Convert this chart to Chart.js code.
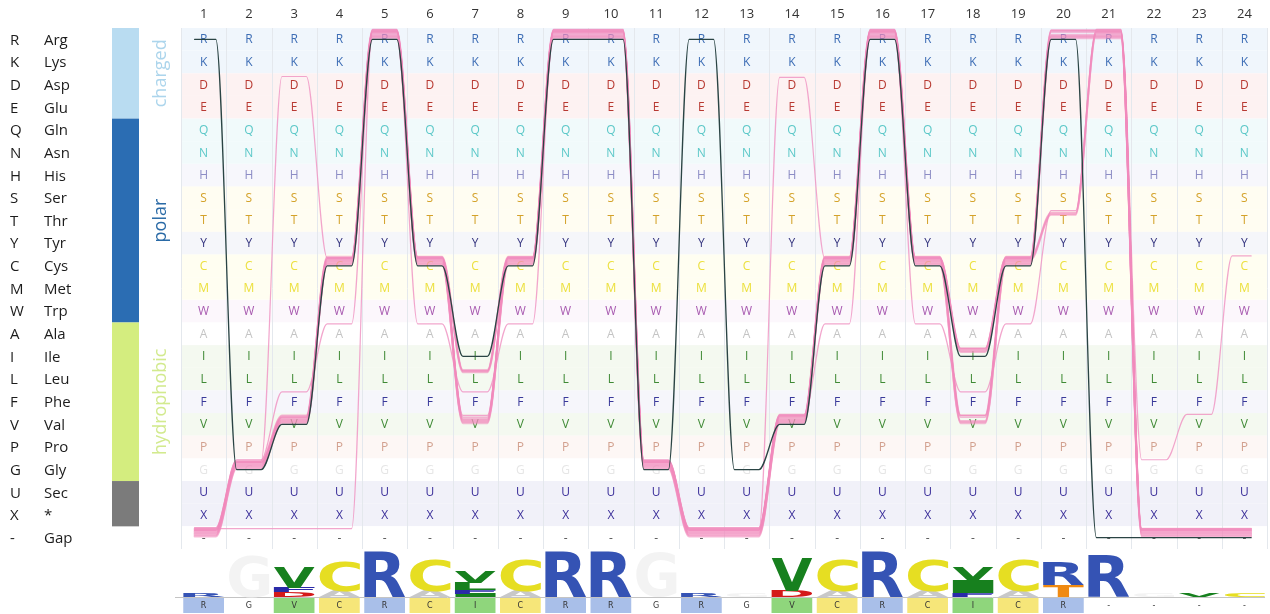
<!DOCTYPE html>
<html>
<head>
<meta charset="utf-8">
<script src="https://cdn.jsdelivr.net/npm/chart.js@4.4.1/dist/chart.umd.min.js"></script>
<style>
  html, body { margin: 0; background: #fff; }
  canvas { display: block; }
</style>
</head>
<body>
<canvas id="bundles" width="1270" height="614"></canvas>
<script>
// ---------- DATA ----------
const residues = ["R","K","D","E","Q","N","H","S","T","Y","C","M","W","A","I","L","F","V","P","G","U","X","-"];
const residueNames = ["Arg","Lys","Asp","Glu","Gln","Asn","His","Ser","Thr","Tyr","Cys","Met","Trp","Ala","Ile","Leu","Phe","Val","Pro","Gly","Sec","*","Gap"];
const positions = [1,2,3,4,5,6,7,8,9,10,11,12,13,14,15,16,17,18,19,20,21,22,23,24];

const groupNames = ["charged", "polar", "hydrophobic", "special"];
const groupFirst = ["R", "Q", "A", "U"];
const groupLast  = ["E", "W", "G", "X"];

// reference sequence (dark line, also the boxes under the logo)
const refSeq = "RGVCRCICRRGRGVCRCICR----";

// aligned sequences of the pink bundle
const bundleSeqs = [
  "-GVCRCVCRRG--VCRCVCRR---",
  "-GVCRCVCRRG--VCRCVCRR---",
  "-GVCRCVCRRG--VCRCVCRR---",
  "-GVCRCVCRRG--VCRCICRR---",
  "-GVCRCVCRRG--VCRCICTR---",
  "-GVCRCLCRRG--VCRCICTR---",
  "-GVCRCLCRRG--VCRCICTR---",
  "-GVCRCLCRRG--VCRCVCRR---",
  "----RCVCRRG--VCRCVCRR---",
  "-GDCRCLCRRG--VCRCICRR---",
  "-GFARAFARRG--VARAFATRGVC",
  "-GVCRCVCRRG--DCRCVCRR---"
];

// ---------- STYLE ----------
const letterColor = {
  R:"#3d6db5", K:"#3d6db5", D:"#b83a32", E:"#b83a32", Q:"#5cc8c8", N:"#5cc8c8",
  H:"#8d8dc5", S:"#d4a22a", T:"#d4a22a", Y:"#34347e", C:"#ece03e", M:"#ece03e",
  W:"#a85ab0", A:"#c4c4c4", I:"#3f8a35", L:"#3f8a35", F:"#39399a", V:"#3f8a35",
  P:"#d2a08e", G:"#e6e6e6", U:"#3b2f9a", X:"#3b2f9a", "-":"#555"
};
const rowBg = {
  R:"#f0f6fc", K:"#f0f6fc", D:"#fdf2f2", E:"#fdf2f2", Q:"#f1fafb", N:"#f1fafb",
  H:"#f7f7fc", S:"#fffdf2", T:"#fffdf2", Y:"#f5f6fa", C:"#fffef1", M:"#fffef1",
  W:"#fcf7fc", A:"#ffffff", I:"#f4f9f0", L:"#f4f9f0", F:"#f6f6fb", V:"#f4f9f0",
  P:"#fdf7f5", G:"#ffffff", U:"#f1f1f9", X:"#f1f1f9", "-":"#ffffff"
};
const logoColor = {
  R:"#3553b4", K:"#3553b4", C:"#e6de22", V:"#17801e", I:"#17801e", L:"#17801e",
  G:"#f3f3f3", D:"#d41a1a", E:"#d41a1a", T:"#f08a12", S:"#f08a12", F:"#2a2aa8", A:"#c8c8c8"
};
const boxColor = { R:"#a9bfe9", K:"#a9bfe9", V:"#8fd67c", I:"#8fd67c", L:"#8fd67c", C:"#f6e679" };
const groupBar = ["#b9dcf1", "#2b6db3", "#d4ed7f", "#7b7b7b"];
const groupText = ["#acd5ec", "#2a6aa6", "#d2ea8e", null];

const FONT = "'Open Sans', 'Noto Sans', sans-serif";
const HALF = 0.27;       // plateau half width, in columns
const PX_PER_BIT = 10.4;
const PSEUDO = 1.5;      // small-sample pseudo count for the logo
const LOGO_BASE = 597;

// ---------- HELPERS ----------
const rowOf = c => residues.indexOf(c);

function bundlePoints(seq, off) {
  const pts = [];
  for (let j = 0; j < seq.length; j++) {
    const y = rowOf(seq[j]) + off;
    pts.push({ x: positions[j] - (j === 0 ? 0.2 : HALF), y });
    pts.push({ x: positions[j] + (j === seq.length - 1 ? 0.15 : HALF), y });
  }
  return pts;
}

const allSeqs = [refSeq, ...bundleSeqs];

function logoColumn(j) {
  const counts = {};
  let n = 0;
  allSeqs.forEach(s => {
    const c = s[j];
    if (c !== "-") { counts[c] = (counts[c] || 0) + 1; n++; }
  });
  if (!n) return [];
  const keys = Object.keys(counts);
  const tot = n + PSEUDO * keys.length;
  let H = 0;
  keys.forEach(c => { const p = (counts[c] + PSEUDO) / tot; H -= p * Math.log2(p); });
  const ic = (Math.log2(20) - H) * n / allSeqs.length;
  return keys
    .map(c => ({ c, bits: ic * (counts[c] + PSEUDO) / tot, k: counts[c] }))
    .sort((a, b) => a.k - b.k);
}

function drawGlyph(ctx, ch, x, yTop, w, h, color) {
  if (h < 0.6) return;
  ctx.save();
  ctx.font = "bold 100px 'DejaVu Sans', sans-serif";
  ctx.textAlign = "left";
  ctx.textBaseline = "alphabetic";
  const m = ctx.measureText(ch);
  const gw = m.actualBoundingBoxLeft + m.actualBoundingBoxRight;
  const gh = m.actualBoundingBoxAscent + m.actualBoundingBoxDescent;
  ctx.translate(x, yTop);
  ctx.scale(w / gw, h / gh);
  ctx.fillStyle = color;
  ctx.fillText(ch, m.actualBoundingBoxLeft, m.actualBoundingBoxAscent);
  ctx.restore();
}

// ---------- PLUGIN: grid, letters, legend, logo ----------
const decor = {
  id: "decor",
  beforeDatasetsDraw(chart) {
    const { ctx, chartArea: a, scales: { x, y } } = chart;
    const colW = x.getPixelForValue(2) - x.getPixelForValue(1);
    ctx.save();

    // row bands
    residues.forEach((r, i) => {
      const t = y.getPixelForValue(i - 0.5), b = y.getPixelForValue(i + 0.5);
      ctx.fillStyle = rowBg[r];
      ctx.fillRect(a.left, t, a.right - a.left, b - t);
    });

    // column separators
    ctx.strokeStyle = "#e4e8ed";
    ctx.lineWidth = 1;
    for (let i = 0; i <= positions.length; i++) {
      const px = Math.round(x.getPixelForValue(i + 0.5)) + 0.5;
      ctx.beginPath(); ctx.moveTo(px, a.top); ctx.lineTo(px, a.bottom); ctx.stroke();
    }

    // cell letters
    ctx.font = "12px " + FONT;
    ctx.textAlign = "center";
    ctx.textBaseline = "middle";
    positions.forEach(p => {
      residues.forEach((r, i) => {
        ctx.fillStyle = letterColor[r];
        ctx.fillText(r, x.getPixelForValue(p), y.getPixelForValue(i) + 0.5);
      });
    });

    // column numbers
    ctx.font = "13px " + FONT;
    ctx.fillStyle = "#333";
    positions.forEach(p => ctx.fillText(String(p), x.getPixelForValue(p), 14));

    // residue legend
    ctx.font = "15px " + FONT;
    ctx.textAlign = "left";
    ctx.fillStyle = "#1c1c1c";
    residues.forEach((r, i) => {
      const py = y.getPixelForValue(i) + 1;
      ctx.fillText(r, 10, py);
      ctx.fillText(residueNames[i], 44, py);
    });

    // group bar + labels
    groupNames.forEach((g, k) => {
      const t = y.getPixelForValue(rowOf(groupFirst[k]) - 0.5);
      const b = y.getPixelForValue(rowOf(groupLast[k]) + 0.5);
      ctx.fillStyle = groupBar[k];
      ctx.fillRect(112, t, 27, b - t);
      if (groupText[k]) {
        ctx.save();
        ctx.translate(161, (t + b) / 2);
        ctx.rotate(-Math.PI / 2);
        ctx.font = "18px " + FONT;
        ctx.textAlign = "center";
        ctx.fillStyle = groupText[k];
        ctx.fillText(g, 0, 0);
        ctx.restore();
      }
    });

    // logo baseline
    ctx.strokeStyle = "#c4c4c4";
    ctx.beginPath(); ctx.moveTo(175, LOGO_BASE + 0.5); ctx.lineTo(1265, LOGO_BASE + 0.5); ctx.stroke();

    // logo letters
    positions.forEach((p, j) => {
      const cx = x.getPixelForValue(p);
      let yb = LOGO_BASE;
      logoColumn(j).forEach(e => {
        const h = e.bits * PX_PER_BIT;
        drawGlyph(ctx, e.c, cx - colW * 0.45, yb - h, colW * 0.9, h, logoColor[e.c] || "#888");
        yb -= h;
      });
    });

    // reference boxes
    ctx.font = "8px 'DejaVu Sans', sans-serif";
    ctx.textAlign = "center";
    positions.forEach((p, j) => {
      const c = refSeq[j];
      const cx = x.getPixelForValue(p);
      if (boxColor[c]) {
        ctx.fillStyle = boxColor[c];
        ctx.fillRect(cx - colW * 0.45, LOGO_BASE + 1, colW * 0.9, 15);
      }
      ctx.fillStyle = "#333";
      ctx.fillText(c, cx, LOGO_BASE + 9);
    });

    ctx.restore();
  }
};

// ---------- CHART ----------
const datasets = [{
  data: bundlePoints(refSeq, 0),
  borderColor: "#2a4444",
  borderWidth: 1.3
}];
bundleSeqs.forEach((s, k) => {
  const main = k < 8;
  const off = main ? -0.05 * (k + 1) : [-0.4, -0.36, -0.44, -0.32][k - 8];
  datasets.push({
    data: bundlePoints(s, off),
    borderColor: main ? "rgba(241,138,188,0.58)" : "rgba(240,150,196,0.85)",
    borderWidth: main ? 1.9 : 1.2
  });
});

new Chart(document.getElementById("bundles"), {
  type: "line",
  data: { datasets },
  options: {
    responsive: false,
    animation: false,
    events: [],
    layout: { padding: { left: 181, right: 3, top: 28, bottom: 65 } },
    plugins: { legend: { display: false }, tooltip: { enabled: false } },
    elements: {
      point: { radius: 0 },
      line: { cubicInterpolationMode: "monotone", borderCapStyle: "round", borderJoinStyle: "round", fill: false }
    },
    scales: {
      x: { type: "linear", min: 0.5, max: 24.5, display: false },
      y: { type: "linear", min: -0.5, max: 22.5, reverse: true, display: false }
    }
  },
  plugins: [decor]
});
</script>
</body>
</html>
